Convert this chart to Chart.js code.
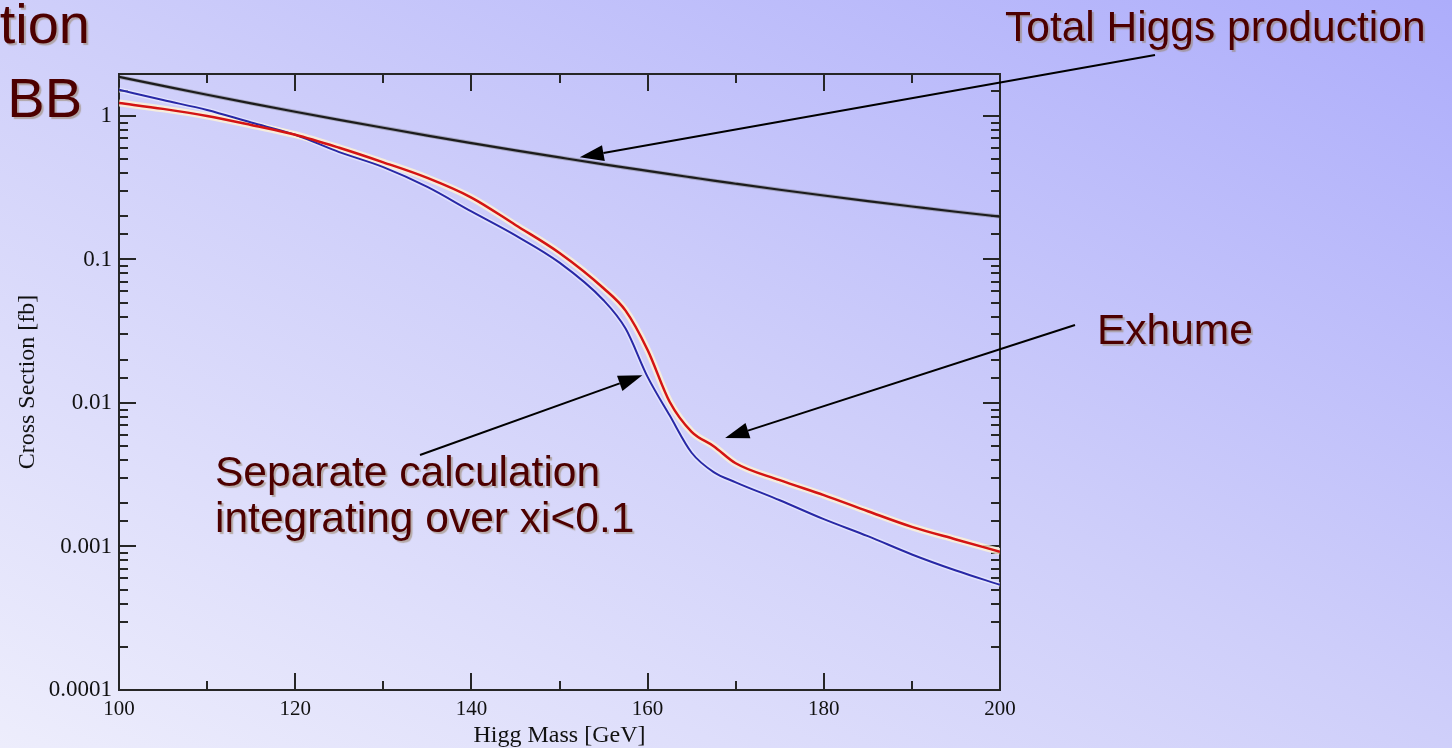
<!DOCTYPE html>
<html lang="en">
<head>
    <meta charset="UTF-8">
    <script src="https://cdn.jsdelivr.net/npm/chart.js"></script>
    <style>
        body {
            margin: 0;
            width: 1452px;
            height: 748px;
            overflow: hidden;
            position: relative;
            background: linear-gradient(to top right, #ededfc 0%, #cfcffa 50%, #adadfb 100%);
            font-family: 'Liberation Sans', Arial, sans-serif;
        }
        canvas {
            position: absolute;
            left: 0;
            top: 0;
        }
        .note {
            position: absolute;
            color: #4d0000;
            font-size: 42.5px;
            line-height: 46px;
            white-space: nowrap;
            text-shadow: 2px 2px 1px rgba(150, 130, 100, 0.55);
        }
        .title {
            font-size: 56px;
            line-height: 56px;
            text-align: right;
        }
    </style>
</head>
<body>
    <canvas id="xsChart" width="1452" height="748"></canvas>
    <div class="note title" style="right: 1362px; top: -4px;">tion</div>
    <div class="note title" style="right: 1370px; top: 70px;">BB</div>
    <div class="note" style="left: 1005px; top: 4px;">Total Higgs production</div>
    <div class="note" style="left: 1097px; top: 307px;">Exhume</div>
    <div class="note" style="left: 215px; top: 449px;">Separate calculation<br>integrating over xi&lt;0.1</div>

    <script>
        // Higgs mass (GeV) and cross sections (fb)
        const massGeV = [100, 105, 110, 115, 120, 125, 130, 135, 140, 145, 150, 155, 157.5, 160, 162.5, 165, 167.5, 170, 175, 180, 185, 190, 195, 200];
        const totalXs = [1.87, 1.62, 1.405, 1.224, 1.07, 0.939, 0.827, 0.73, 0.647, 0.575, 0.514, 0.46, 0.436, 0.414, 0.393, 0.373, 0.354, 0.337, 0.306, 0.279, 0.255, 0.234, 0.215, 0.199];
        const exhumeXs = [1.23, 1.12, 1.0, 0.865, 0.74, 0.6, 0.475, 0.37, 0.27, 0.174, 0.111, 0.063, 0.044, 0.0234, 0.0102, 0.0063, 0.005, 0.0038, 0.0029, 0.00228, 0.00176, 0.00137, 0.00112, 0.00092];
        const separateXs = [1.52, 1.29, 1.1, 0.9, 0.74, 0.56, 0.44, 0.32, 0.216, 0.147, 0.095, 0.052, 0.033, 0.0152, 0.0082, 0.0045, 0.0033, 0.0028, 0.0021, 0.00155, 0.00118, 0.00088, 0.00068, 0.00054];

        // arrows: tail on the page, head at a point in data space
        const arrowNotes = [
            { from: [1155, 55], at: [152.3, 0.515] },
            { from: [1075, 325], at: [168.8, 0.0057] },
            { from: [420, 455], at: [159.4, 0.0156] }
        ];

        const toPoints = ys => massGeV.map((m, i) => ({ x: m, y: ys[i] }));
        const isDecade = v => Math.abs(Math.log10(v) - Math.round(Math.log10(v))) < 1e-6;

        // inward ticks on all four sides plus the frame
        const frameTicks = {
            id: 'frameTicks',
            beforeDatasetsDraw(chart) {
                const { ctx, chartArea: a, scales: { x, y } } = chart;
                ctx.save();
                ctx.strokeStyle = '#262626';
                ctx.lineWidth = 2;
                ctx.beginPath();
                x.ticks.forEach(t => {
                    const px = Math.round(x.getPixelForValue(t.value));
                    const len = t.value % 20 === 0 ? 17 : 9;
                    ctx.moveTo(px, a.bottom); ctx.lineTo(px, a.bottom - len);
                    ctx.moveTo(px, a.top); ctx.lineTo(px, a.top + len);
                });
                y.ticks.forEach(t => {
                    if (t.value > y.max) return;
                    const py = Math.round(y.getPixelForValue(t.value));
                    const len = isDecade(t.value) ? 17 : 9;
                    ctx.moveTo(a.left, py); ctx.lineTo(a.left + len, py);
                    ctx.moveTo(a.right, py); ctx.lineTo(a.right - len, py);
                });
                ctx.stroke();
                ctx.strokeRect(a.left, a.top, a.right - a.left, a.bottom - a.top);
                ctx.restore();
            }
        };

        const arrows = {
            id: 'arrows',
            afterDatasetsDraw(chart) {
                const { ctx, scales: { x, y } } = chart;
                ctx.save();
                ctx.strokeStyle = '#000';
                ctx.fillStyle = '#000';
                ctx.lineWidth = 2;
                arrowNotes.forEach(n => {
                    const [x0, y0] = n.from;
                    const x1 = x.getPixelForValue(n.at[0]);
                    const y1 = y.getPixelForValue(n.at[1]);
                    const ang = Math.atan2(y1 - y0, x1 - x0);
                    const hl = 24, hw = 8;
                    const bx = x1 - hl * Math.cos(ang), by = y1 - hl * Math.sin(ang);
                    ctx.beginPath();
                    ctx.moveTo(x0, y0);
                    ctx.lineTo(bx, by);
                    ctx.stroke();
                    ctx.beginPath();
                    ctx.moveTo(x1, y1);
                    ctx.lineTo(bx + hw * Math.sin(ang), by - hw * Math.cos(ang));
                    ctx.lineTo(bx - hw * Math.sin(ang), by + hw * Math.cos(ang));
                    ctx.closePath();
                    ctx.fill();
                });
                ctx.restore();
            }
        };

        const lineDefaults = { pointRadius: 0, cubicInterpolationMode: 'monotone', fill: false };

        new Chart(document.getElementById('xsChart'), {
            type: 'line',
            data: {
                datasets: [
                    { ...lineDefaults, label: 'Total Higgs production', data: toPoints(totalXs), borderColor: '#1c1c1c', borderWidth: 2.2, order: 0 },
                    { ...lineDefaults, label: 'Exhume', data: toPoints(exhumeXs), borderColor: '#d41414', borderWidth: 2.5, order: 0 },
                    { ...lineDefaults, label: 'Separate calculation', data: toPoints(separateXs), borderColor: '#2828a6', borderWidth: 2, order: 0 },
                    { ...lineDefaults, label: 'halo1', data: toPoints(totalXs), borderColor: 'rgba(110,110,110,0.45)', borderWidth: 4, order: 1 },
                    { ...lineDefaults, label: 'halo2', data: toPoints(exhumeXs), borderColor: 'rgba(255,244,212,0.8)', borderWidth: 7, order: 1 },
                    { ...lineDefaults, label: 'halo3', data: toPoints(separateXs), borderColor: 'rgba(240,242,255,0.55)', borderWidth: 5, order: 1 }
                ]
            },
            options: {
                responsive: false,
                animation: false,
                layout: { padding: { top: 74, right: 452, left: 0, bottom: 0 } },
                plugins: {
                    legend: { display: false },
                    tooltip: { enabled: false }
                },
                scales: {
                    x: {
                        type: 'linear',
                        min: 100,
                        max: 200,
                        afterFit: s => { s.height = 58; },
                        grid: { display: false, drawTicks: false },
                        border: { display: false },
                        ticks: {
                            stepSize: 10,
                            padding: 7,
                            autoSkip: false,
                            maxRotation: 0,
                            color: '#111',
                            font: { family: 'Liberation Serif', size: 21 },
                            callback: v => (v % 20 === 0 ? String(v) : '')
                        },
                        title: {
                            display: true,
                            text: 'Higg Mass [GeV]',
                            color: '#111',
                            font: { family: 'Liberation Serif', size: 24 },
                            padding: { top: 0, bottom: -2 }
                        }
                    },
                    y: {
                        type: 'logarithmic',
                        min: 0.0001,
                        max: 1.96,
                        afterFit: s => { s.width = 119; },
                        grid: { display: false, drawTicks: false },
                        border: { display: false },
                        ticks: {
                            padding: 7,
                            autoSkip: false,
                            color: '#111',
                            font: { family: 'Liberation Serif', size: 23 },
                            callback: v => (isDecade(v) ? String(Number(v.toPrecision(1))) : '')
                        },
                        title: {
                            display: true,
                            text: 'Cross Section [fb]',
                            color: '#111',
                            font: { family: 'Liberation Serif', size: 24 },
                            padding: { top: 13, bottom: 0 }
                        }
                    }
                }
            },
            plugins: [frameTicks, arrows]
        });
    </script>
</body>
</html>
